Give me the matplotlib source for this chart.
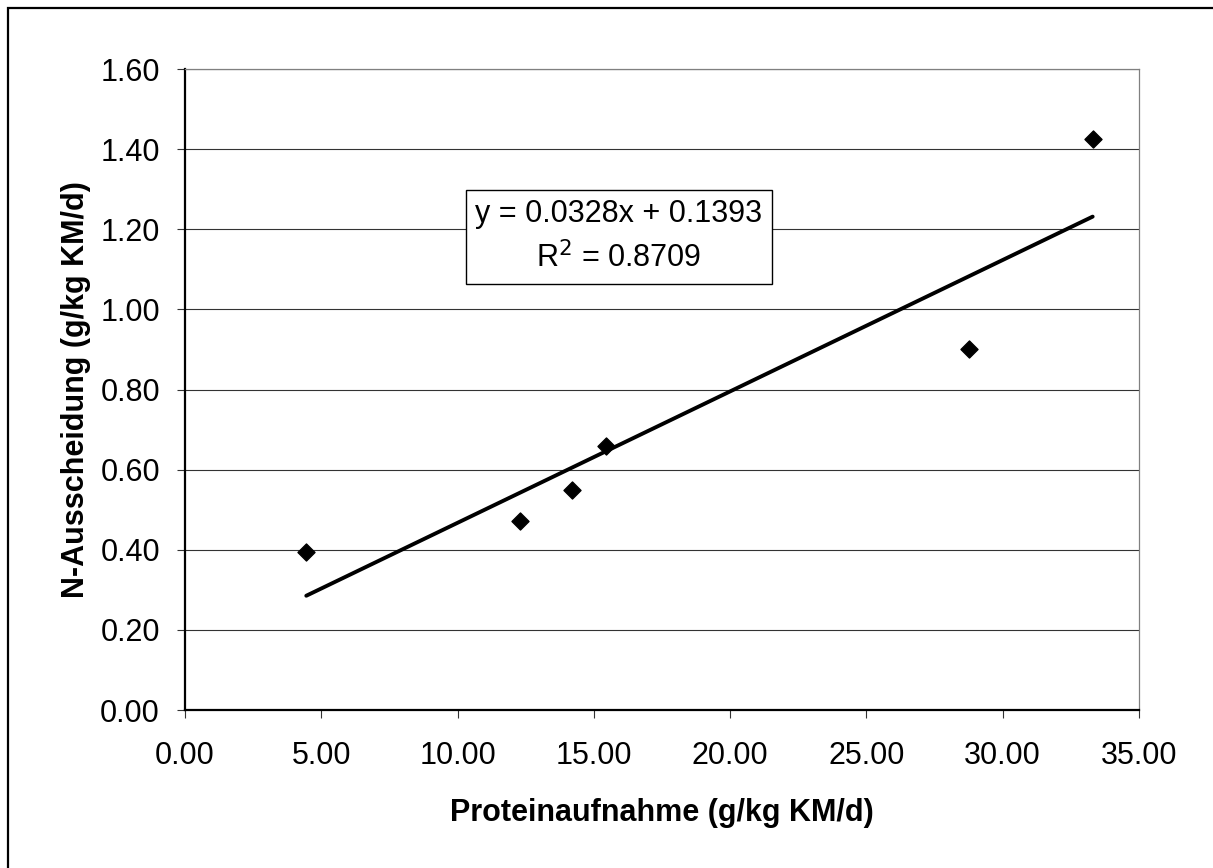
import matplotlib.pyplot as plt
from matplotlib.patches import Rectangle

# Protein intake vs. nitrogen excretion (g/kg KM/d)
protein = [4.45, 12.30, 14.20, 15.45, 28.75, 33.30]
n_excr = [0.395, 0.472, 0.548, 0.660, 0.900, 1.425]

slope = 0.0328
intercept = 0.1393
r2 = 0.8709

x_ticks = [0, 5, 10, 15, 20, 25, 30, 35]
y_ticks = [0.0, 0.2, 0.4, 0.6, 0.8, 1.0, 1.2, 1.4, 1.6]

plt.rcParams['font.family'] = ['Liberation Sans', 'DejaVu Sans']

fig = plt.figure(figsize=(12.13, 8.68), dpi=100)
ax = fig.add_axes([0.1525, 0.182, 0.7865, 0.7385])

# outer chart frame
fig.patches.append(Rectangle((8 / 1213, -0.05), 1.1, 1 - 8 / 868 + 0.05,
                             transform=fig.transFigure, fill=False,
                             edgecolor='black', linewidth=1.6))

ax.set_xlim(0, 35)
ax.set_ylim(0, 1.6)
ax.set_xticks(x_ticks)
ax.set_yticks(y_ticks)
ax.set_xticklabels(['%.2f' % v for v in x_ticks])
ax.set_yticklabels(['%.2f' % v for v in y_ticks])

ax.grid(axis='y', color='#333333', linewidth=0.8)
ax.set_axisbelow(True)

for side in ['left', 'bottom']:
    ax.spines[side].set_linewidth(1.6)
    ax.spines[side].set_color('black')
ax.spines['right'].set_color('#808080')
ax.spines['right'].set_linewidth(0.9)
ax.spines['top'].set_color('#808080')
ax.spines['top'].set_linewidth(0.9)

ax.tick_params(axis='both', direction='out', length=6, width=0.8,
               labelsize=22, color='#333333')
ax.tick_params(axis='y', pad=12)
ax.tick_params(axis='x', pad=16)

ax.scatter(protein, n_excr, marker='D', s=75, color='black', zorder=3)

# linear trendline over the data range
x0, x1 = min(protein), max(protein)
ax.plot([x0, x1], [slope * x0 + intercept, slope * x1 + intercept],
        color='black', linewidth=2.8, solid_capstyle='round', zorder=2)

ax.text(15.92, 1.181, 'y = %.4fx + %.4f\nR$^2$ = %.4f' % (slope, intercept, r2),
        fontsize=22, ha='center', va='center',
        linespacing=1.5, multialignment='center', zorder=4,
        bbox=dict(boxstyle='square,pad=0.3', facecolor='white',
                  edgecolor='black', linewidth=1.0))

ax.set_xlabel('Proteinaufnahme (g/kg KM/d)', fontsize=22, fontweight='bold',
              labelpad=20)
ax.set_ylabel('N-Ausscheidung (g/kg KM/d)', fontsize=22, fontweight='bold',
              labelpad=7)

fig.savefig('out.png', dpi=100)
